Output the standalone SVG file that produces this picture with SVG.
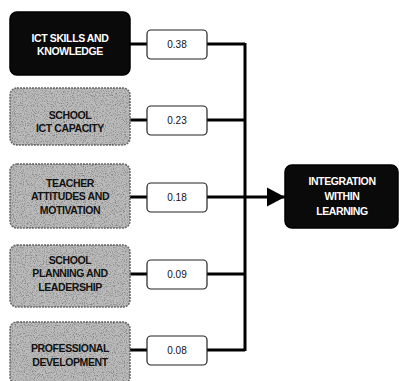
<svg xmlns="http://www.w3.org/2000/svg" width="399" height="381" viewBox="0 0 399 381">
<style>
.dark{fill:#0a0a0a;stroke:#000;stroke-width:1.5}
.grey{fill:#bcbcbc;stroke:#6a6a6a;stroke-width:1.5;stroke-dasharray:2 1}
.tex{fill:#000;opacity:0.35;filter:url(#noise)}
.val{fill:#fff;stroke:#222;stroke-width:1.2}
.lbl{font-family:"Liberation Sans Narrow","Liberation Sans",Arial,sans-serif;font-weight:bold;font-size:10.5px;text-anchor:middle;letter-spacing:-0.4px}
.w{fill:#fff}
.b{fill:#111}
.num{font-family:"Liberation Sans",Arial,sans-serif;font-size:10px;text-anchor:middle;fill:#111}
.con{stroke:#000;stroke-width:3;fill:none}
</style>
<defs>
<filter id="noise" x="0" y="0" width="1" height="1">
<feTurbulence type="fractalNoise" baseFrequency="0.9" numOctaves="2" seed="3" result="t"/>
<feColorMatrix in="t" type="matrix" values="0 0 0 0 0  0 0 0 0 0  0 0 0 0 0  0 0 0 -2.5 1.35" result="a"/>
<feComposite in="SourceGraphic" in2="a" operator="in"/>
</filter>
<marker id="arr" markerWidth="6" markerHeight="6.4" refX="6" refY="3.2" orient="auto" markerUnits="strokeWidth">
<path d="M0,0 L6,3.2 L0,6.4 Z" fill="#000"/>
</marker>
</defs>
<rect width="399" height="381" fill="#fff"/>
<g id="connectors">
<path class="con" d="M130,44 H147 M207,44 H245 M130,120 H147 M207,120 H245 M130,197 H147 M207,197 H245 M130,274 H147 M207,274 H245 M130,350 H147 M207,350 H245 M245,43 V351"/>
<path class="con" d="M245,197 H285" marker-end="url(#arr)"/>
</g>
<g id="n1">
<rect class="dark" x="10" y="12" width="120" height="63" rx="7"/>
<text class="lbl w" x="70" y="42">ICT SKILLS AND</text>
<text class="lbl w" x="70" y="55">KNOWLEDGE</text>
</g>
<g id="n2">
<rect class="grey" x="10" y="88" width="120" height="57" rx="7"/>
<rect class="tex" x="10" y="88" width="120" height="57" rx="7"/>
<text class="lbl b" x="70" y="119">SCHOOL</text>
<text class="lbl b" x="70" y="132">ICT CAPACITY</text>
</g>
<g id="n3">
<rect class="grey" x="10" y="164" width="120" height="64" rx="7"/>
<rect class="tex" x="10" y="164" width="120" height="64" rx="7"/>
<text class="lbl b" x="70" y="187">TEACHER</text>
<text class="lbl b" x="70" y="200">ATTITUDES AND</text>
<text class="lbl b" x="70" y="214">MOTIVATION</text>
</g>
<g id="n4">
<rect class="grey" x="10" y="245" width="120" height="62" rx="7"/>
<rect class="tex" x="10" y="245" width="120" height="62" rx="7"/>
<text class="lbl b" x="70" y="264">SCHOOL</text>
<text class="lbl b" x="70" y="277">PLANNING AND</text>
<text class="lbl b" x="70" y="291">LEADERSHIP</text>
</g>
<g id="n5">
<rect class="grey" x="10" y="322" width="120" height="62" rx="7"/>
<rect class="tex" x="10" y="322" width="120" height="62" rx="7"/>
<text class="lbl b" x="70" y="352">PROFESSIONAL</text>
<text class="lbl b" x="70" y="366">DEVELOPMENT</text>
</g>
<g id="v1"><rect class="val" x="147" y="30" width="60" height="29" rx="4"/><text class="num" x="177" y="48">0.38</text></g>
<g id="v2"><rect class="val" x="147" y="106" width="60" height="29" rx="4"/><text class="num" x="177" y="124">0.23</text></g>
<g id="v3"><rect class="val" x="147" y="183" width="60" height="29" rx="4"/><text class="num" x="177" y="201">0.18</text></g>
<g id="v4"><rect class="val" x="147" y="260" width="60" height="29" rx="4"/><text class="num" x="177" y="278">0.09</text></g>
<g id="v5"><rect class="val" x="147" y="336" width="60" height="29" rx="4"/><text class="num" x="177" y="354">0.08</text></g>
<g id="target">
<rect class="dark" x="285" y="165" width="113" height="63" rx="7"/>
<text class="lbl w" x="342" y="185">INTEGRATION</text>
<text class="lbl w" x="342" y="200">WITHIN</text>
<text class="lbl w" x="342" y="215">LEARNING</text>
</g>
</svg>
